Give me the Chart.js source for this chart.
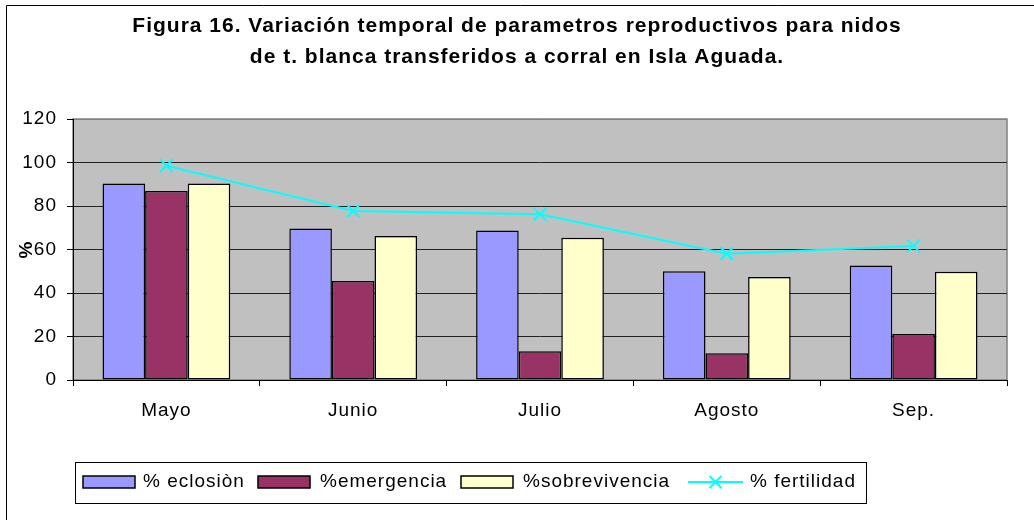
<!DOCTYPE html>
<html>
<head>
<meta charset="utf-8">
<script src="https://cdn.jsdelivr.net/npm/chart.js@4/dist/chart.umd.min.js"></script>
<style>
  html, body { margin: 0; padding: 0; background: #fff; }
  canvas { display: block; }
</style>
</head>
<body>
<canvas id="grafica" width="1034" height="520"></canvas>
<script>
// datos
const meses = ['Mayo', 'Junio', 'Julio', 'Agosto', 'Sep.'];
const eclosion = [90.4, 69.7, 68.7, 50.0, 52.7];
const emergencia = [86.9, 45.5, 13.2, 12.3, 21.1];
const sobrevivencia = [90.4, 66.2, 65.4, 47.4, 49.8];
const fertilidad = [98.5, 77.7, 76.2, 58.1, 61.6];
const yMin = 0, yMax = 120, yPaso = 20;

const fuente = 'Arial, "Liberation Sans", sans-serif';

// marco, fondo gris del area de trazado
const fondo = {
    id: 'fondo',
    beforeDraw(chart) {
        const ctx = chart.ctx;
        const a = chart.chartArea;
        // el texto de Excel sale algo mas espaciado
        ctx.letterSpacing = '1px';
        ctx.save();
        ctx.fillStyle = '#fff';
        ctx.fillRect(0, 0, chart.width, chart.height);
        ctx.strokeStyle = '#000';
        ctx.lineWidth = 1;
        ctx.beginPath();
        ctx.moveTo(6.5, chart.height);
        ctx.lineTo(6.5, 5.5);
        ctx.lineTo(chart.width, 5.5);
        ctx.stroke();
        ctx.fillStyle = '#C0C0C0';
        ctx.fillRect(a.left, a.top, a.right - a.left, a.bottom - a.top);
        ctx.strokeStyle = '#808080';
        ctx.lineWidth = 1.5;
        ctx.strokeRect(a.left, a.top, a.right - a.left, a.bottom - a.top);
        ctx.restore();
    }
};

// leyenda en recuadro, como en la figura original
const leyenda = {
    id: 'leyenda',
    afterDraw(chart) {
        const ctx = chart.ctx;
        const y = 482;
        const pos = [
            { box: 83, text: 143 },
            { box: 258, text: 320 },
            { box: 461, text: 523 },
            { box: 688, text: 750 }
        ];
        ctx.save();
        ctx.strokeStyle = '#000';
        ctx.lineWidth = 1;
        ctx.strokeRect(75.5, 462.5, 791, 41);
        ctx.font = '19px ' + fuente;
        ctx.textBaseline = 'middle';
        ctx.textAlign = 'left';
        chart.data.datasets.forEach(function(ds, i) {
            const p = pos[i];
            if (ds.type === 'line') {
                ctx.strokeStyle = ds.borderColor;
                ctx.lineWidth = 2;
                ctx.beginPath();
                ctx.moveTo(p.box, y);
                ctx.lineTo(p.box + 55, y);
                const cx = p.box + 27.5, r = 6;
                ctx.moveTo(cx - r, y - r); ctx.lineTo(cx + r, y + r);
                ctx.moveTo(cx - r, y + r); ctx.lineTo(cx + r, y - r);
                ctx.stroke();
            } else {
                ctx.fillStyle = ds.backgroundColor;
                ctx.fillRect(p.box, y - 6, 52, 12);
                ctx.strokeStyle = '#000';
                ctx.lineWidth = 1.5;
                ctx.strokeRect(p.box, y - 6, 52, 12);
            }
            ctx.fillStyle = '#000';
            ctx.fillText(ds.label, p.text, y);
        });
        ctx.restore();
    }
};

new Chart(document.getElementById('grafica'), {
    type: 'bar',
    data: {
        labels: meses,
        datasets: [{
            label: '% eclosiòn',
            data: eclosion,
            backgroundColor: '#9999FF',
            borderColor: '#000',
            borderWidth: 1.5,
            borderSkipped: false,
            order: 1
        }, {
            label: '%emergencia',
            data: emergencia,
            backgroundColor: '#993366',
            borderColor: '#000',
            borderWidth: 1.5,
            borderSkipped: false,
            order: 1
        }, {
            label: '%sobrevivencia',
            data: sobrevivencia,
            backgroundColor: '#FFFFCC',
            borderColor: '#000',
            borderWidth: 1.5,
            borderSkipped: false,
            order: 1
        }, {
            type: 'line',
            label: '% fertilidad',
            data: fertilidad,
            borderColor: '#00FFFF',
            backgroundColor: '#00FFFF',
            borderWidth: 2,
            pointStyle: 'crossRot',
            pointRadius: 9,
            pointBorderWidth: 2,
            pointBorderColor: '#00FFFF',
            tension: 0,
            fill: false,
            order: 0
        }]
    },
    options: {
        responsive: false,
        animation: false,
        categoryPercentage: 0.684,
        barPercentage: 1,
        layout: {
            padding: { left: 6, right: 6, top: 5, bottom: 0 }
        },
        plugins: {
            legend: { display: false },
            tooltip: { enabled: false },
            title: {
                display: true,
                text: ['Figura 16. Variación temporal de parametros reproductivos para nidos',
                       'de t. blanca transferidos a corral en Isla Aguada.'],
                color: '#000',
                font: { family: fuente, size: 21, weight: 'bold', lineHeight: 31 / 21 },
                padding: { top: 6, bottom: 46 }
            }
        },
        scales: {
            x: {
                afterFit: function(s) { s.height = 140; },
                grid: {
                    display: true,
                    drawOnChartArea: false,
                    offset: true,
                    tickLength: 6,
                    color: '#000',
                    tickColor: '#000'
                },
                border: { color: '#000', width: 1 },
                ticks: {
                    color: '#000',
                    padding: 13,
                    font: { family: fuente, size: 19 }
                }
            },
            y: {
                min: yMin,
                max: yMax,
                afterFit: function(s) { s.width = 67; },
                grid: {
                    color: function(c) { return c.tick && c.tick.value === yMax ? '#808080' : '#222'; },
                    tickColor: '#000',
                    tickLength: 6,
                    lineWidth: 1
                },
                border: { color: '#000', width: 1 },
                ticks: {
                    stepSize: yPaso,
                    color: '#000',
                    padding: 10,
                    font: { family: fuente, size: 19 }
                },
                title: {
                    display: true,
                    text: '%',
                    color: '#000',
                    font: { family: fuente, size: 19, weight: 'bold' },
                    padding: { top: 9, bottom: 0 }
                }
            },
            // margen derecho vacio (sin marcas), deja el titulo centrado en el lienzo
            margen: {
                type: 'linear',
                position: 'right',
                display: true,
                afterFit: function(s) { s.width = 21; },
                grid: { display: false },
                border: { display: false },
                ticks: { display: false }
            }
        }
    },
    plugins: [fondo, leyenda]
});
</script>
</body>
</html>
